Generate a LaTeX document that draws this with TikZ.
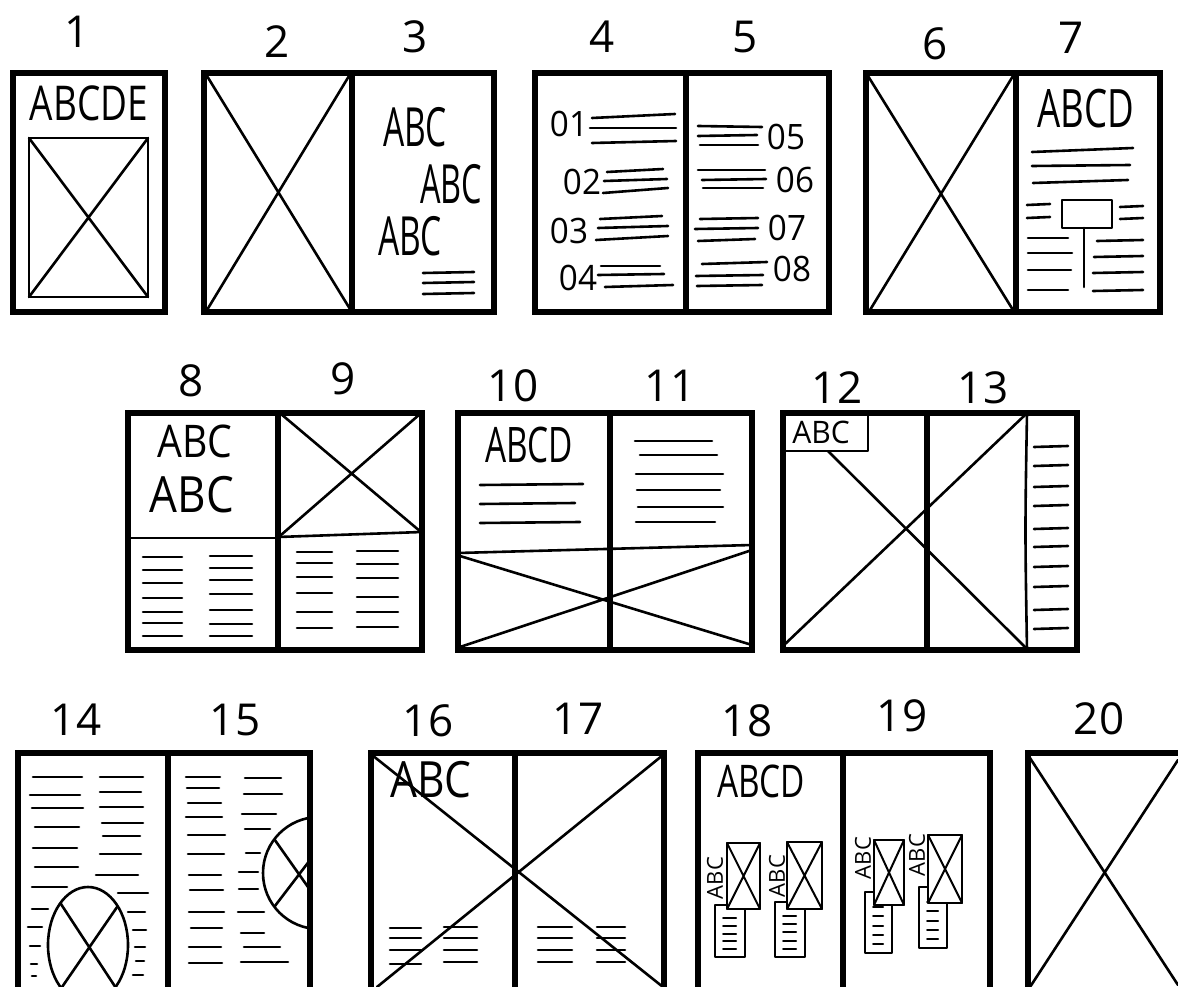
\documentclass[tikz,border=0pt]{standalone}
\usepackage{fontspec}
\setmainfont{Open Sans}
\usepackage{tikz}
\usetikzlibrary{calc}

\tikzset{
  frame/.style={line width=6.5pt, line join=miter},
  pen/.style={line width=2.6pt, line cap=round, line join=round},
  fine/.style={line width=2pt, line cap=round, line join=round},
  pagenum/.style={font=\fontsize{44}{44}\selectfont, inner sep=0pt},
  hand/.style={inner sep=0pt},
}

\begin{document}
\begin{tikzpicture}[x=1pt,y=-1pt]
\useasboundingbox (0,0) rectangle (1178,987);
\clip (0,0) rectangle (1178,987);

% page numbers
\foreach \name/\x/\y/\txt in {n1/77/32/1, n2/277/42/2, n3/415/37/3, n4/602/37/4,
    n5/745/37/5, n6/935/44/6, n7/1071/38/7, n8/191/381/8, n9/343/379/9,
    n10/513/386/10, n11/670/386/11, n12/837/388/12, n13/983/388/13,
    n14/76/720/14, n15/235/720/15, n16/428/721/16, n17/578/719/17,
    n18/747/721/18, n19/902/716/19, n20/1099/719/20}
  \node[pagenum] (\name) at (\x,\y) {\txt};

%%% row 1
% page 1
\node[hand, font=\fontsize{48}{48}\selectfont, xscale=0.77] (t1) at (89,103) {ABCDE};
\draw[pen] (29,138) rectangle (148,297);
\draw[pen] (29,138) -- (148,297) (29,297) -- (148,138);
% page 2
\draw[pen] (207,76) -- (350,309) (207,310) -- (349,76);
% page 3
\node[hand, font=\fontsize{54}{54}\selectfont, xscale=0.62] (t3a) at (415,127) {ABC};
\node[hand, font=\fontsize{54}{54}\selectfont, xscale=0.6] (t3b) at (451,184) {ABC};
\node[hand, font=\fontsize{54}{54}\selectfont, xscale=0.62] (t3c) at (410,236) {ABC};
\foreach \y in {273,283,294}
  \draw[pen] (423,\y) -- (474,\y-1);
% page 4
\foreach \name/\x/\y/\txt in {d1/569/124/01, d2/582/182/02, d3/569/231/03, d4/578/278/04,
    d5/786/137/05, d6/795/180/06, d7/787/228/07, d8/792/269/08}
  \node[hand, font=\fontsize{35}{35}\selectfont, xscale=0.95] (\name) at (\x,\y) {\txt};
\foreach \a/\ya/\b/\yb in {592/118/675/114, 590/128/676/128, 592/143/676/141,
    607/172/663/169, 604/181/667/179, 603/193/668/188,
    600/219/662/216, 598/228/668/226, 596/240/668/236,
    601/266/660/266, 598/275/664/274, 605/287/673/285}
  \draw[pen] (\a,\ya) -- (\b,\yb);
% page 5
\foreach \a/\ya/\b/\yb in {698/126/762/127, 698/136/757/135, 700/145/758/145,
    698/170/765/170, 702/180/766/179, 703/188/763/188,
    700/219/758/218, 695/229/758/228, 698/241/755/239,
    702/264/767/262, 696/276/763/275, 697/286/762/285}
  \draw[pen] (\a,\ya) -- (\b,\yb);
% page 6
\draw[pen] (868,76) -- (1013,310) (870,310) -- (1013,76);
% page 7
\node[hand, font=\fontsize{53}{53}\selectfont, xscale=0.69] (t7) at (1086,109) {ABCD};
\draw[pen] (1032,152) -- (1133,148) (1032,166) -- (1130,165) (1033,183) -- (1128,180);
\draw[pen] (1062,200) rectangle (1112,228);
\draw[pen] (1084,228) -- (1084,287);
\draw[pen] (1027,205) -- (1050,204) (1027,218) -- (1050,217);
\draw[pen] (1120,207) -- (1143,206) (1120,219) -- (1143,218);
\foreach \y/\b in {238/1068, 253/1072, 270/1071, 290/1068}
  \draw[pen] (1028,\y) -- (\b,\y);
\foreach \y/\a in {241/1097, 257/1094, 273/1093, 291/1093}
  \draw[pen] (\a,\y) -- (1143,\y-1);
% frames row 1
\draw[frame] (13,73) rectangle (165,312);
\draw[frame] (204,73) rectangle (494,312);
\draw[frame] (352,73) -- (352,312);
\draw[frame] (535,73) rectangle (829,312);
\draw[frame] (686,73) -- (686,312);
\draw[frame] (866,73) rectangle (1160,312);
\draw[frame] (1016,73) -- (1016,312);

%%% row 2
% page 8
\node[hand, font=\fontsize{45}{45}\selectfont, xscale=0.87] (t8a) at (195,441) {ABC};
\node[hand, font=\fontsize{50}{50}\selectfont, xscale=0.88] (t8b) at (192,495) {ABC};
\draw[pen] (128,538) -- (278,538);
\foreach \y in {557,570,583,598,612,623,636}
  \draw[pen] (143,\y) -- (182,\y);
\foreach \y in {556,568,580,594,610,624,636}
  \draw[pen] (210,\y) -- (252,\y);
% page 9
\draw[pen] (278,537) -- (422,532);
\draw[pen] (281,414) -- (421,532) (281,535) -- (420,414);
\foreach \y in {552,563,577,593,612,628}
  \draw[pen] (297,\y) -- (332,\y);
\foreach \y in {551,564,578,597,612,627}
  \draw[pen] (357,\y) -- (398,\y);
% pages 10 and 11
\node[hand, font=\fontsize{49}{49}\selectfont, xscale=0.68] (t10) at (529,445) {ABCD};
\foreach \y/\b in {485/583, 504/575, 523/580}
  \draw[pen] (480,\y) -- (\b,\y-1);
\foreach \a/\y/\b in {635/441/712, 640/455/717, 636/474/723, 637/490/720, 638/507/723, 636/522/715}
  \draw[pen] (\a,\y) -- (\b,\y);
\draw[pen] (458,553) -- (752,545);
\draw[pen] (460,556) -- (752,645) (460,647) -- (752,550);
% pages 12 and 13
\draw[pen] (783,413) rectangle (868,451);
\node[hand, font=\fontsize{31}{31}\selectfont, xscale=0.97] (t12) at (821,432) {ABC};
\draw[pen] (828,451) -- (1025,647) (783,646) -- (1025,415);
\draw[pen] (1027,413) .. controls (1025,530) .. (1027,650);
\foreach \y in {447,466,487,506,529,547,567,587,610,629}
  \draw[pen] (1034,\y) -- (1068,\y-1);
% frames row 2
\draw[frame] (128,413) rectangle (422,650);
\draw[frame] (278,413) -- (278,650);
\draw[frame] (458,413) rectangle (752,650);
\draw[frame] (610,413) -- (610,650);
\draw[frame] (783,413) rectangle (1077,650);
\draw[frame] (927,413) -- (927,650);

%%% row 3
% page 14
\foreach \y/\a/\b in {777/33/82, 795/30/80, 808/32/83, 827/35/79, 848/33/77, 867/35/78,
    887/32/67, 909/32/48, 927/28/42, 946/30/40, 964/31/37, 976/32/36}
  \draw[pen] (\a,\y) -- (\b,\y);
\foreach \y/\a/\b in {777/100/143, 792/100/141, 807/100/143, 823/102/143, 836/103/140,
    854/100/141, 875/96/138, 893/118/148, 912/128/145, 930/133/146, 947/135/145,
    961/136/144, 975/133/143}
  \draw[pen] (\a,\y) -- (\b,\y);
\draw[pen] (88,945) ellipse [x radius=40pt, y radius=58pt];
\begin{scope}
  \clip (88,945) ellipse [x radius=40pt, y radius=58pt];
  \draw[pen] (40,872) -- (135,1017) (135,881) -- (40,1019);
\end{scope}
% page 15
\foreach \y/\a/\b in {777/186/220, 788/187/219, 803/188/221, 817/186/222, 835/188/225,
    854/188/224, 875/189/221, 890/190/223, 912/189/224, 928/191/222, 947/189/221, 963/189/222}
  \draw[pen] (\a,\y) -- (\b,\y);
\foreach \y/\a/\b in {778/245/281, 794/244/282, 814/242/276, 829/245/270, 853/246/260,
    872/239/258, 889/239/258, 912/238/264, 933/241/264, 947/244/280, 962/241/288}
  \draw[pen] (\a,\y) -- (\b,\y);
\begin{scope}
  \clip (170,755) rectangle (310,990);
  \draw[pen] (319,873) circle [radius=56pt];
  \begin{scope}
    \clip (319,873) circle [radius=56pt];
    \draw[pen] (265,826) -- (320,904) (265,919) -- (320,847);
  \end{scope}
\end{scope}
% pages 16 and 17
\node[hand, font=\fontsize{50}{50}\selectfont, xscale=0.85] (t16) at (431,780) {ABC};
\draw[pen] (372,755) -- (663,987) (377,987) -- (663,755);
\foreach \y in {928,938,950,964}
  \draw[pen] (390,\y) -- (421,\y);
\foreach \y in {927,938,950,962}
  \draw[pen] (444,\y) -- (477,\y);
\foreach \y in {927,938,950,962}
  \draw[pen] (538,\y) -- (572,\y) (597,\y) -- (625,\y);
% pages 18 and 19
\node[hand, font=\fontsize{45}{45}\selectfont, xscale=0.74] (t18) at (761,781) {ABCD};
\foreach \tx/\ty/\tX/\tY/\ix/\iy/\iX/\iY/\ax/\ay/\nm in {
    715/905/745/957/727/843/760/909/715/878/g1,
    775/902/805/957/787/842/822/909/777/876/g2,
    865/892/892/953/874/840/904/905/863/858/g3,
    919/887/947/948/928/835/962/903/917/855/g4} {
  \draw[fine, fill=white] (\tx,\ty) rectangle (\tX,\tY);
  \foreach \k in {0.25,0.4,0.55,0.7,0.85}
    \draw[fine] ($(\tx,\ty)!\k!(\tx,\tY)+(8,0)$) -- ($(\tX,\ty)!\k!(\tX,\tY)+(-9,0)$);
  \draw[fine, fill=white] (\ix,\iy) rectangle (\iX,\iY);
  \draw[fine] (\ix,\iy) -- (\iX,\iY) (\ix,\iY) -- (\iX,\iy);
  \node[hand, font=\fontsize{22}{22}\selectfont, rotate=90] (\nm) at (\ax,\ay) {ABC};
}
% page 20
\draw[pen] (1028,755) -- (1178,985) (1030,987) -- (1178,760);
% frames row 3
\draw[frame] (18,753) rectangle (310,1010);
\draw[frame] (168,753) -- (168,1010);
\draw[frame] (371,753) rectangle (664,1010);
\draw[frame] (515,753) -- (515,1010);
\draw[frame] (698,753) rectangle (990,1010);
\draw[frame] (843,753) -- (843,1010);
\draw[frame] (1028,753) rectangle (1190,1010);

\end{tikzpicture}
\end{document}
